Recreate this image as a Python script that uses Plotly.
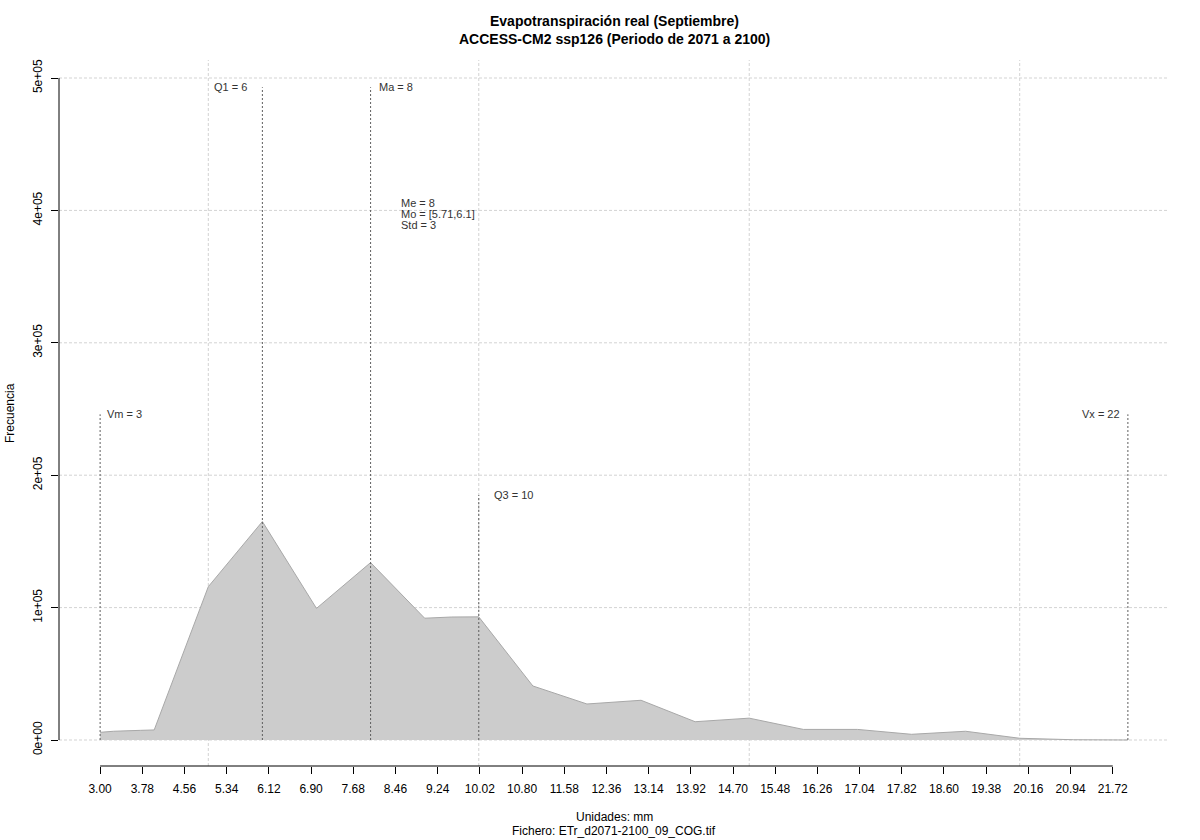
import plotly.graph_objects as go

# ---- data ----
x_mm = [3.0, 3.25, 3.75, 4.0, 5.0, 6.0, 7.0, 8.0, 9.0, 9.5, 10.0, 11.0, 12.0, 13.0,
        14.0, 15.0, 16.0, 17.0, 18.0, 19.0, 20.0, 21.0, 22.0]
freq = [5800, 6600, 7300, 7600, 115800, 165000, 99400, 134000, 92000, 92900, 93000,
        40800, 27200, 30000, 13800, 16500, 8000, 8000, 4300, 6600, 1300, 200, 0]

x_tick_vals = [round(3.00 + 0.78 * i, 2) for i in range(25)]
x_tick_text = ["%.2f" % v for v in x_tick_vals]
y_tick_vals = [0, 100000, 200000, 300000, 400000, 500000]
y_tick_text = ["0e+00", "1e+05", "2e+05", "3e+05", "4e+05", "5e+05"]
x_grid = [5, 10, 15, 20]
y_grid = [0, 100000, 200000, 300000, 400000, 500000]

stat_labels = ["Vm = 3", "Q1 = 6", "Ma = 8", "Q3 = 10", "Vx = 22"]
stat_x = [3, 6, 8, 10, 22]
stat_top = [246000, 493000, 493000, 185000, 246000]
stat_side = ["right", "left", "right", "right", "left"]

info_lines = ["Me = 8", "Mo = [5.71,6.1]", "Std = 3"]
info_x = 8.5
info_y = [405800, 397500, 389000]

title_lines = ["Evapotranspiración real (Septiembre)",
               "ACCESS-CM2 ssp126 (Periodo de 2071 a 2100)"]
xlab_lines = ["Unidades: mm", "Fichero: ETr_d2071-2100_09_COG.tif"]
ylab = "Frecuencia"

FONT = "Liberation Sans, Arial, sans-serif"

fig = go.Figure()
fig.add_trace(go.Scatter(
    x=x_mm, y=freq, mode="lines", fill="tozeroy",
    fillcolor="#CCCCCC", line=dict(color="#A8A8A8", width=1),
    hoverinfo="skip", showlegend=False))

shapes = []
for gx in x_grid:
    shapes.append(dict(type="line", xref="x", yref="paper", x0=gx, x1=gx, y0=0, y1=1,
                       line=dict(color="#D3D3D3", width=1, dash="3px,2px"), layer="below"))
for gy in y_grid:
    shapes.append(dict(type="line", xref="paper", yref="y", x0=0, x1=1, y0=gy, y1=gy,
                       line=dict(color="#D3D3D3", width=1, dash="3px,2px"), layer="below"))
for sx, st in zip(stat_x, stat_top):
    shapes.append(dict(type="line", xref="x", yref="y", x0=sx, x1=sx, y0=0, y1=st,
                       line=dict(color="#5F5F5F", width=1, dash="2px,2px"), layer="above"))
# axis lines (R style, only between extreme ticks)
shapes.append(dict(type="line", xref="x", yref="paper", x0=x_tick_vals[0], x1=x_tick_vals[-1],
                   y0=0, y1=0, line=dict(color="black", width=1), layer="above"))
shapes.append(dict(type="line", xref="paper", yref="y", x0=0, x1=0,
                   y0=y_tick_vals[0], y1=y_tick_vals[-1], line=dict(color="black", width=1),
                   layer="above"))

annotations = []
shift = {"Vm = 3": 5, "Q1 = 6": -13, "Ma = 8": 6, "Q3 = 10": 13, "Vx = 22": -6}
for lab, sx, st, side in zip(stat_labels, stat_x, stat_top, stat_side):
    annotations.append(dict(x=sx, y=st, xref="x", yref="y", text=lab, showarrow=False,
                            xanchor="right" if side == "left" else "left", yanchor="middle",
                            xshift=shift[lab], font=dict(family=FONT, size=11, color="#333333")))
for t, iy in zip(info_lines, info_y):
    annotations.append(dict(x=info_x, y=iy, xref="x", yref="y", text=t, showarrow=False,
                            xanchor="left", yanchor="middle", xshift=1,
                            font=dict(family=FONT, size=11, color="#333333")))
for t, ys in zip(title_lines, [39, 21]):
    annotations.append(dict(x=0.5, y=1, xref="paper", yref="paper", text="<b>%s</b>" % t,
                            showarrow=False, xanchor="center", yanchor="middle", yshift=ys,
                            font=dict(family=FONT, size=14, color="black")))
for t, ys in zip(xlab_lines, [-51, -65]):
    annotations.append(dict(x=0.5, y=0, xref="paper", yref="paper", text=t,
                            showarrow=False, xanchor="center", yanchor="middle", yshift=ys,
                            font=dict(family=FONT, size=12, color="black")))
annotations.append(dict(x=0, y=0.5, xref="paper", yref="paper", text=ylab, textangle=-90,
                        showarrow=False, xanchor="center", yanchor="middle", xshift=-49,
                        font=dict(family=FONT, size=12, color="black")))

fig.update_layout(
    width=1200, height=840,
    margin=dict(l=59, r=31, t=60, b=74),
    paper_bgcolor="white", plot_bgcolor="white",
    font=dict(family=FONT, size=12, color="black"),
    showlegend=False,
    shapes=shapes, annotations=annotations,
    xaxis=dict(range=[2.24, 22.76], tickmode="array", tickvals=x_tick_vals,
               ticktext=x_tick_text, ticks="outside", ticklen=7, tickcolor="black",
               tickwidth=1, showgrid=False, zeroline=False, showline=False,
               automargin=False, ticklabelstandoff=5,
               tickfont=dict(family=FONT, size=12, color="black")),
    yaxis=dict(range=[-19637, 513595], tickmode="array", tickvals=y_tick_vals,
               ticktext=y_tick_text, ticks="outside", ticklen=7, tickcolor="black",
               tickwidth=1, tickangle=-90, showgrid=False, zeroline=False, showline=False,
               automargin=False, ticklabelstandoff=4,
               tickfont=dict(family=FONT, size=12, color="black")),
)

fig.write_html("out.html", config={"displayModeBar": False},
               post_script="document.body.style.margin='0';document.body.style.overflow='hidden';")
